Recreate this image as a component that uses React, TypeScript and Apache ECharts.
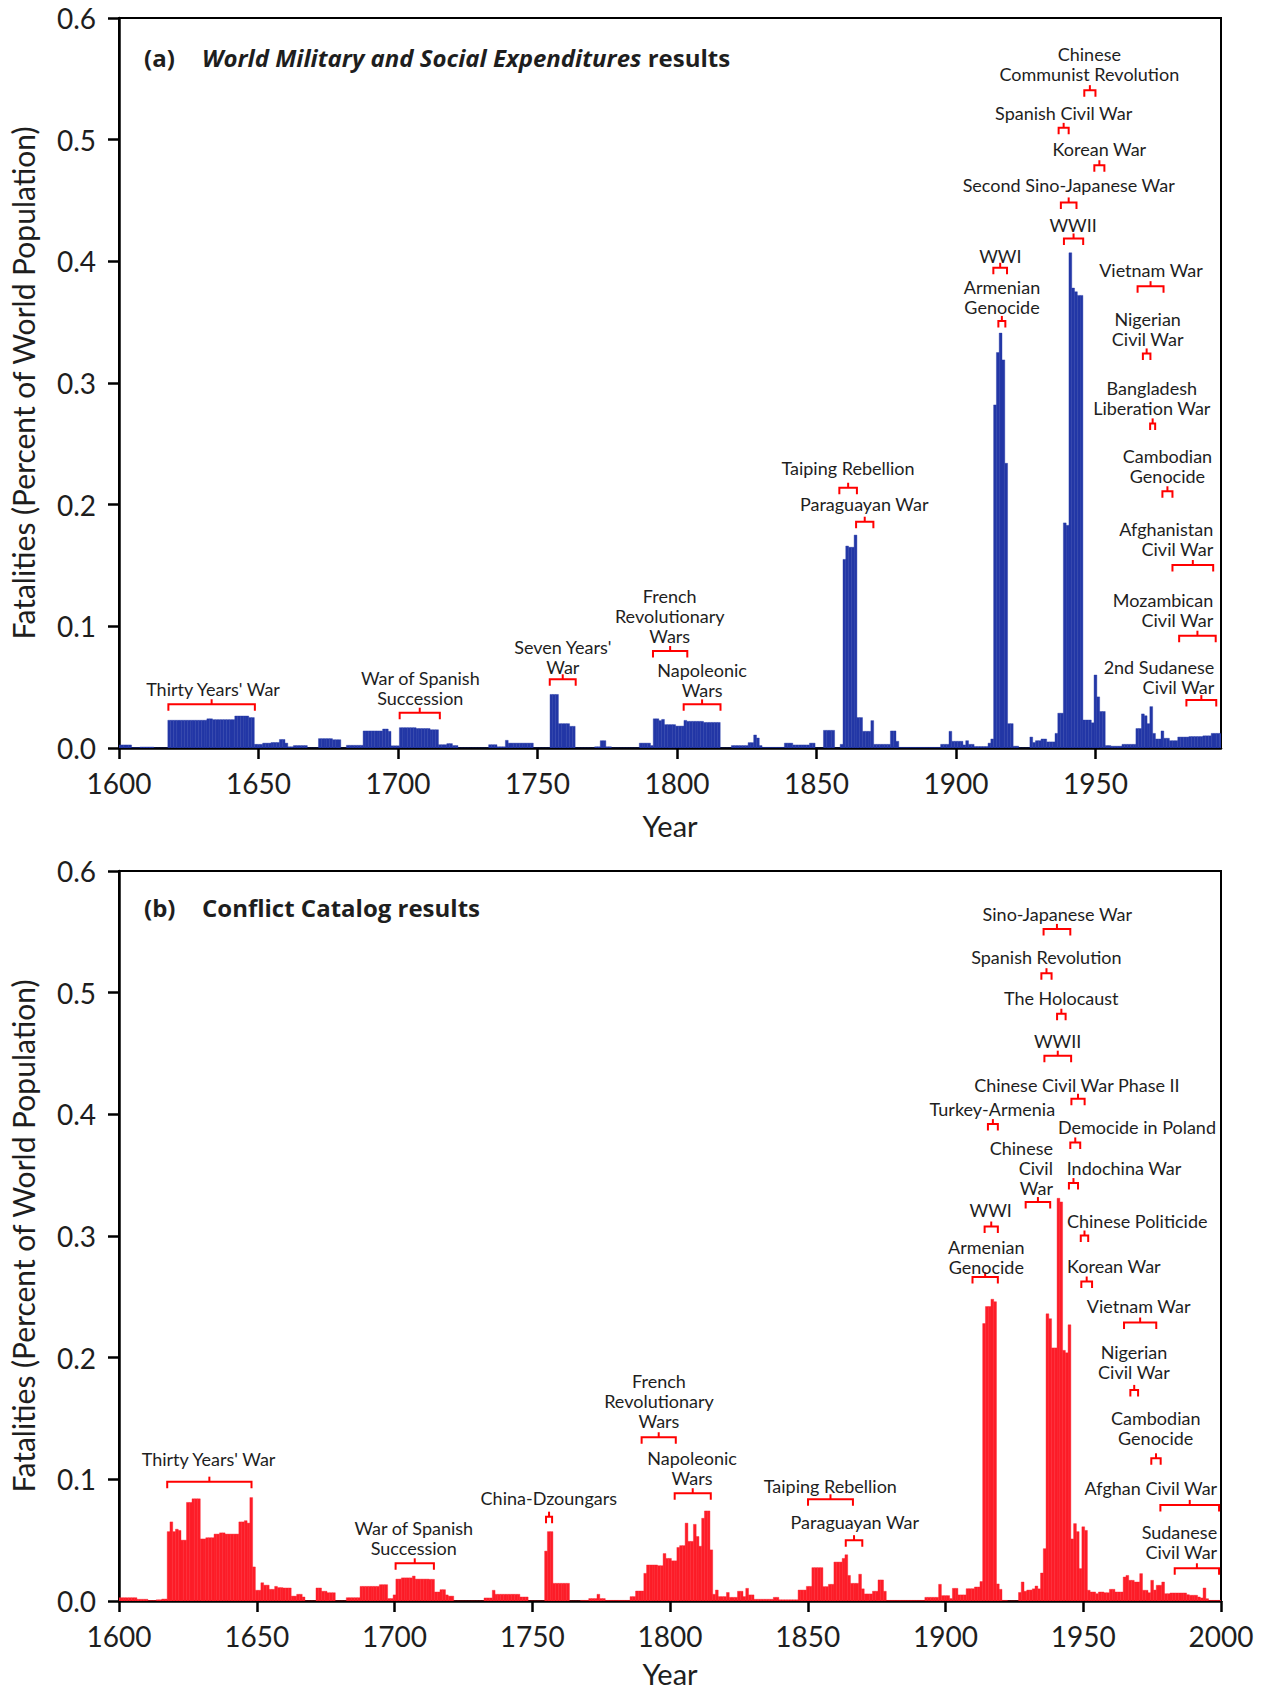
import React, { useEffect, useRef } from "react";
import * as echarts from "echarts";

type Seg = [number, number, number];

// [firstYear, lastYear, value]  (percent of world population), panel (a)
const SEG_A: Seg[] = [
  [1600, 1604, 0.0025], [1605, 1607, 0.0002], [1608, 1612, 0.0008], [1613, 1617, 0],
  [1618, 1631, 0.0228], [1632, 1633, 0.024], [1634, 1641, 0.0233], [1642, 1646, 0.0263],
  [1647, 1648, 0.025], [1649, 1651, 0.003], [1652, 1654, 0.004], [1655, 1657, 0.0045],
  [1658, 1659, 0.007], [1660, 1660, 0.004], [1661, 1662, 0.001], [1663, 1667, 0.002],
  [1668, 1671, 0], [1672, 1676, 0.0077], [1677, 1679, 0.0068], [1680, 1681, 0],
  [1682, 1687, 0.0022], [1688, 1694, 0.014], [1695, 1696, 0.0156], [1697, 1697, 0.0137],
  [1698, 1700, 0.0018], [1701, 1706, 0.0167], [1707, 1711, 0.016], [1712, 1714, 0.015],
  [1715, 1717, 0.0027], [1718, 1719, 0.0036], [1720, 1721, 0.002], [1722, 1732, 0],
  [1733, 1735, 0.0027], [1736, 1738, 0.001], [1739, 1739, 0.0063], [1740, 1748, 0.004],
  [1749, 1754, 0], [1755, 1757, 0.044], [1758, 1761, 0.02], [1762, 1763, 0.0178],
  [1764, 1770, 0], [1771, 1772, 0.001], [1773, 1774, 0.006], [1775, 1776, 0.001],
  [1777, 1786, 0], [1787, 1790, 0.004], [1791, 1791, 0.002], [1792, 1793, 0.024],
  [1794, 1794, 0.0225], [1795, 1795, 0.0235], [1796, 1799, 0.0192], [1800, 1802, 0.018],
  [1803, 1803, 0.0227], [1804, 1809, 0.0219], [1810, 1815, 0.021], [1816, 1819, 0],
  [1820, 1825, 0.002], [1826, 1827, 0.0044], [1828, 1828, 0.0107], [1829, 1829, 0.0082],
  [1830, 1830, 0.002], [1831, 1838, 0.0005], [1839, 1841, 0.004], [1842, 1847, 0.0025],
  [1848, 1849, 0.004], [1850, 1852, 0], [1853, 1856, 0.0145], [1857, 1858, 0],
  [1859, 1859, 0.003], [1860, 1860, 0.155], [1861, 1861, 0.166], [1862, 1863, 0.165],
  [1864, 1864, 0.175], [1865, 1866, 0.025], [1867, 1869, 0.0137], [1870, 1870, 0.0225],
  [1871, 1876, 0.003], [1877, 1878, 0.014], [1879, 1879, 0.0055], [1880, 1894, 0.0005],
  [1895, 1897, 0.003], [1898, 1898, 0.0137], [1899, 1902, 0.0055], [1903, 1903, 0.0025],
  [1904, 1904, 0.006], [1905, 1906, 0.003], [1907, 1911, 0.0012], [1912, 1912, 0.004],
  [1913, 1913, 0.0074], [1914, 1914, 0.282], [1915, 1915, 0.325], [1916, 1916, 0.341],
  [1917, 1917, 0.319], [1918, 1918, 0.234], [1919, 1920, 0.02], [1921, 1922, 0.0015],
  [1923, 1926, 0], [1927, 1927, 0.009], [1928, 1928, 0.0045], [1929, 1930, 0.006],
  [1931, 1932, 0.0074], [1933, 1935, 0.005], [1936, 1936, 0.012], [1937, 1938, 0.0286],
  [1939, 1939, 0.185], [1940, 1940, 0.183], [1941, 1941, 0.407], [1942, 1942, 0.378],
  [1943, 1943, 0.375], [1944, 1945, 0.372], [1946, 1948, 0.023], [1949, 1949, 0.0207],
  [1950, 1950, 0.06], [1951, 1951, 0.042], [1952, 1953, 0.03], [1954, 1955, 0.002],
  [1956, 1959, 0.0015], [1960, 1964, 0.003], [1965, 1966, 0.016], [1967, 1967, 0.028],
  [1968, 1968, 0.0265], [1969, 1969, 0.02], [1970, 1970, 0.034], [1971, 1971, 0.012],
  [1972, 1973, 0.0074], [1974, 1974, 0.014], [1975, 1976, 0.008], [1977, 1979, 0.006],
  [1980, 1983, 0.009], [1984, 1988, 0.0094], [1989, 1991, 0.01], [1992, 1995, 0.012],
];

// panel (b)
const SEG_B: Seg[] = [
  [1600, 1606, 0.0027], [1607, 1610, 0.0014], [1611, 1613, 0.0003], [1614, 1615, 0.001],
  [1616, 1617, 0.0016], [1618, 1618, 0.057], [1619, 1619, 0.065], [1620, 1620, 0.057],
  [1621, 1621, 0.059], [1622, 1622, 0.058], [1623, 1624, 0.05], [1625, 1626, 0.081],
  [1627, 1629, 0.084], [1630, 1631, 0.051], [1632, 1634, 0.052], [1635, 1636, 0.055],
  [1637, 1638, 0.056], [1639, 1643, 0.055], [1644, 1645, 0.065], [1646, 1646, 0.066],
  [1647, 1647, 0.064], [1648, 1648, 0.085], [1649, 1649, 0.028], [1650, 1651, 0.0088],
  [1652, 1652, 0.015], [1653, 1654, 0.013], [1655, 1656, 0.0096], [1657, 1657, 0.012],
  [1658, 1659, 0.011], [1660, 1662, 0.0107], [1663, 1664, 0.004], [1665, 1666, 0.0055],
  [1667, 1667, 0.0033], [1668, 1671, 0], [1672, 1673, 0.0107], [1674, 1675, 0.008],
  [1676, 1678, 0.0068], [1679, 1682, 0], [1683, 1687, 0.0027], [1688, 1694, 0.012],
  [1695, 1697, 0.0134], [1698, 1699, 0.002], [1700, 1700, 0.005], [1701, 1702, 0.018],
  [1703, 1706, 0.019], [1707, 1707, 0.0205], [1708, 1712, 0.018], [1713, 1714, 0.0178],
  [1715, 1716, 0.0074], [1717, 1718, 0.0093], [1719, 1719, 0.005], [1720, 1721, 0.004],
  [1722, 1732, 0], [1733, 1735, 0.0025], [1736, 1736, 0.0088], [1737, 1745, 0.0055],
  [1746, 1748, 0.0033], [1749, 1754, 0], [1755, 1755, 0.041], [1756, 1757, 0.057],
  [1758, 1763, 0.0145], [1764, 1767, 0], [1768, 1770, 0.0005], [1771, 1773, 0.002],
  [1774, 1774, 0.0055], [1775, 1776, 0.002], [1777, 1785, 0.0005], [1786, 1787, 0.0036],
  [1788, 1790, 0.0082], [1791, 1791, 0.0227], [1792, 1795, 0.0296], [1796, 1797, 0.029],
  [1798, 1798, 0.039], [1799, 1800, 0.035], [1801, 1802, 0.033], [1803, 1803, 0.044],
  [1804, 1805, 0.0455], [1806, 1806, 0.064], [1807, 1808, 0.049], [1809, 1809, 0.063],
  [1810, 1810, 0.053], [1811, 1811, 0.045], [1812, 1812, 0.068], [1813, 1814, 0.074],
  [1815, 1815, 0.042], [1816, 1816, 0.0055], [1817, 1817, 0.009], [1818, 1820, 0.0036],
  [1821, 1821, 0.007], [1822, 1824, 0.003], [1825, 1826, 0.008], [1827, 1827, 0.0036],
  [1828, 1828, 0.0104], [1829, 1830, 0.005], [1831, 1837, 0.0014], [1838, 1839, 0.003],
  [1840, 1846, 0.001], [1847, 1849, 0.009], [1850, 1851, 0.012], [1852, 1855, 0.0274],
  [1856, 1857, 0.0118], [1858, 1859, 0.0137], [1860, 1862, 0.032], [1863, 1863, 0.035],
  [1864, 1864, 0.038], [1865, 1865, 0.021], [1866, 1868, 0.0145], [1869, 1869, 0.022],
  [1870, 1870, 0.01], [1871, 1873, 0.0058], [1874, 1875, 0.008], [1876, 1877, 0.0173],
  [1878, 1878, 0.008], [1879, 1892, 0.0005], [1893, 1897, 0.003], [1898, 1898, 0.0137],
  [1899, 1901, 0.0044], [1902, 1902, 0.002], [1903, 1904, 0.0104], [1905, 1907, 0.005],
  [1908, 1910, 0.0101], [1911, 1912, 0.0115], [1913, 1913, 0.016], [1914, 1914, 0.228],
  [1915, 1916, 0.242], [1917, 1917, 0.248], [1918, 1918, 0.246], [1919, 1919, 0.014],
  [1920, 1920, 0.0096], [1921, 1922, 0.0005], [1923, 1926, 0], [1927, 1927, 0.007],
  [1928, 1928, 0.0156], [1929, 1929, 0.008], [1930, 1931, 0.009], [1932, 1932, 0.01],
  [1933, 1933, 0.0123], [1934, 1934, 0.01], [1935, 1935, 0.023], [1936, 1936, 0.043],
  [1937, 1937, 0.236], [1938, 1938, 0.232], [1939, 1940, 0.208], [1941, 1941, 0.331],
  [1942, 1942, 0.328], [1943, 1943, 0.206], [1944, 1944, 0.204], [1945, 1945, 0.227],
  [1946, 1946, 0.051], [1947, 1947, 0.0636], [1948, 1948, 0.057], [1949, 1949, 0.0266],
  [1950, 1950, 0.061], [1951, 1951, 0.058], [1952, 1952, 0.0088], [1953, 1954, 0.0074],
  [1955, 1955, 0.006], [1956, 1957, 0.0074], [1958, 1959, 0.0068], [1960, 1961, 0.0096],
  [1962, 1964, 0.0074], [1965, 1965, 0.0197], [1966, 1966, 0.021], [1967, 1968, 0.017],
  [1969, 1970, 0.0156], [1971, 1971, 0.0225], [1972, 1973, 0.0088], [1974, 1974, 0.0068],
  [1975, 1975, 0.017], [1976, 1976, 0.009], [1977, 1978, 0.0129], [1979, 1979, 0.0156],
  [1980, 1981, 0.006], [1982, 1987, 0.0066], [1988, 1988, 0.0052], [1989, 1991, 0.0047],
  [1992, 1992, 0.0033], [1993, 1993, 0.0025], [1994, 1994, 0.0107], [1995, 1995, 0.0019],
  [1996, 2000, 0.0005],
];

// [label, labelYear, labelValue, align, bracketStartYear, bracketEndYear, bracketValue]
type Ann = [string, number, number, string, number, number, number];
const ANN_A: Ann[] = [
  ["Thirty Years' War", 1633.7, 0.0488, "center", 1617.7, 1648.7, 0.036],
  ["War of Spanish\nSuccession", 1708, 0.0497, "center", 1700.6, 1715, 0.029],
  ["Seven Years'\nWar", 1759.1, 0.075, "center", 1754.4, 1763.7, 0.0565],
  ["French\nRevolutionary\nWars", 1797.4, 0.1084, "center", 1791.4, 1803.7, 0.0797],
  ["Napoleonic\nWars", 1809, 0.0559, "center", 1802.4, 1815.6, 0.0359],
  ["Taiping Rebellion", 1861.3, 0.23, "center", 1858.2, 1864.5, 0.2139],
  ["Paraguayan War", 1867.1, 0.2008, "center", 1864.2, 1870.4, 0.186],
  ["WWI", 1915.9, 0.4044, "center", 1913.4, 1918.3, 0.3947],
  ["Armenian\nGenocide", 1916.5, 0.371, "center", 1915.2, 1917.7, 0.351],
  ["WWII", 1942, 0.43, "center", 1938.7, 1945.6, 0.4188],
  ["Second Sino-Japanese War", 1940.4, 0.4628, "center", 1937.6, 1943.2, 0.4484],
  ["Korean War", 1951.4, 0.4921, "center", 1949.6, 1953.2, 0.479],
  ["Spanish Civil War", 1938.6, 0.5222, "center", 1936.8, 1940.4, 0.5097],
  ["Chinese\nCommunist Revolution", 1947.8, 0.5625, "center", 1946, 1950, 0.5407],
  ["Vietnam War", 1969.9, 0.393, "center", 1965.1, 1974.4, 0.3796],
  ["Nigerian\nCivil War", 1968.7, 0.3442, "center", 1967, 1969.7, 0.3243],
  ["Bangladesh\nLiberation War", 1970.2, 0.2877, "center", 1969.6, 1971.4, 0.2668],
  ["Cambodian\nGenocide", 1975.8, 0.2316, "center", 1974, 1977.6, 0.211],
  ["Afghanistan\nCivil War", 1992.2, 0.1717, "right", 1977.6, 1992.2, 0.1504],
  ["Mozambican\nCivil War", 1992.2, 0.1134, "right", 1980, 1993.1, 0.0923],
  ["2nd Sudanese\nCivil War", 1992.6, 0.058, "right", 1982.6, 1993.3, 0.0394],
];

const ANN_B: Ann[] = [
  ["Thirty Years' War", 1632.5, 0.1164, "center", 1617.5, 1648.1, 0.0981],
  ["War of Spanish\nSuccession", 1707, 0.0516, "center", 1700.4, 1714.3, 0.031],
  ["China-Dzoungars", 1756, 0.0847, "center", 1755, 1757.2, 0.0693],
  ["French\nRevolutionary\nWars", 1796, 0.164, "center", 1789.7, 1802.1, 0.1346],
  ["Napoleonic\nWars", 1808, 0.1095, "center", 1801.7, 1814.8, 0.0886],
  ["Taiping Rebellion", 1858.2, 0.0948, "center", 1850.1, 1866.4, 0.0836],
  ["Paraguayan War", 1867.1, 0.0652, "center", 1863.8, 1869.8, 0.05],
  ["Sino-Japanese War", 1940.6, 0.565, "center", 1935.6, 1945.3, 0.5524],
  ["Spanish Revolution", 1936.6, 0.5293, "center", 1934.8, 1938.5, 0.516],
  ["The Holocaust", 1942, 0.4956, "center", 1940.5, 1943.6, 0.4827],
  ["WWII", 1940.7, 0.46, "center", 1935.9, 1945.6, 0.4482],
  ["Chinese Civil War Phase II", 1947.7, 0.4243, "center", 1945.7, 1950.5, 0.4128],
  ["Turkey-Armenia", 1917, 0.4046, "center", 1915.4, 1919, 0.392],
  ["Democide in Poland", 1969.5, 0.3895, "center", 1945.3, 1948.9, 0.3769],
  ["Chinese\nCivil\nWar", 1939, 0.356, "right", 1929.1, 1938, 0.3279],
  ["Indochina War", 1964.8, 0.3558, "center", 1944.8, 1948.1, 0.3435],
  ["WWI", 1916.4, 0.321, "center", 1914.2, 1919, 0.3078],
  ["Chinese Politicide", 1969.6, 0.312, "center", 1949.1, 1951.8, 0.3004],
  ["Armenian\nGenocide", 1914.8, 0.2829, "center", 1909.8, 1919, 0.2662],
  ["Korean War", 1961.1, 0.2757, "center", 1949.3, 1953.2, 0.2626],
  ["Vietnam War", 1970.1, 0.2426, "center", 1964.8, 1976.5, 0.2289],
  ["Nigerian\nCivil War", 1968.4, 0.1968, "center", 1967.1, 1969.9, 0.1735],
  ["Cambodian\nGenocide", 1976.3, 0.1423, "center", 1974.7, 1978.1, 0.1173],
  ["Afghan Civil War", 1998.6, 0.0927, "right", 1978, 1999.3, 0.079],
  ["Sudanese\nCivil War", 1998.6, 0.0485, "right", 1983.2, 1999.3, 0.0269],
];

const X_TICKS_A = [1600, 1650, 1700, 1750, 1800, 1850, 1900, 1950];
const X_TICKS_B = [1600, 1650, 1700, 1750, 1800, 1850, 1900, 1950, 2000];

const FONT = "Lato, 'Noto Sans', sans-serif";
const TITLE_FONT = "'Open Sans', Lato, sans-serif";
const TEXT = "#1e1e1e";
const BLUE = "#2337a6";
const RED = "#fd1d28";
const BRACKET = "#ff0000";

function expand(segs: Seg[]): [number, number][] {
  const out: [number, number][] = [];
  for (const [a, b, v] of segs) for (let y = a; y <= b; y++) out.push([y, v]);
  return out;
}

function barSeries(idx: number, segs: Seg[], color: string) {
  return {
    type: "custom",
    xAxisIndex: idx,
    yAxisIndex: idx,
    clip: true,
    silent: true,
    encode: { x: 0, y: 1 },
    data: expand(segs),
    renderItem: (params: any, api: any) => {
      const yr = api.value(0);
      const v = api.value(1);
      const p0 = api.coord([yr - 0.5, 0]);
      const p1 = api.coord([yr + 0.5, v]);
      return {
        type: "rect",
        shape: { x: p0[0], y: p1[1], width: p1[0] - p0[0], height: p0[1] - p1[1] },
        style: { fill: color, stroke: color, lineWidth: 0.4 },
      };
    },
  };
}

function annSeries(idx: number, anns: Ann[]) {
  return {
    type: "custom",
    xAxisIndex: idx,
    yAxisIndex: idx,
    clip: false,
    silent: true,
    z: 5,
    encode: { x: 0, y: 1 },
    data: anns.map((a) => [a[4], a[6], a[5], a[1], a[2]]),
    renderItem: (params: any, api: any) => {
      const a = anns[params.dataIndex];
      const ps = api.coord([a[4], a[6]]);
      const pe = api.coord([a[5], a[6]]);
      const pl = api.coord([a[1], a[2]]);
      const mx = (ps[0] + pe[0]) / 2;
      return {
        type: "group",
        children: [
          {
            type: "polyline",
            shape: { points: [[ps[0], ps[1] + 6.5], [ps[0], ps[1]], [pe[0], pe[1]], [pe[0], pe[1] + 6.5]] },
            style: { stroke: BRACKET, lineWidth: 2, fill: null },
          },
          {
            type: "line",
            shape: { x1: mx, y1: ps[1], x2: mx, y2: ps[1] - 5 },
            style: { stroke: BRACKET, lineWidth: 2 },
          },
          {
            type: "text",
            x: pl[0],
            y: pl[1],
            style: {
              text: a[0],
              fill: TEXT,
              fontSize: 18,
              fontFamily: FONT,
              lineHeight: 20,
              align: a[3],
              verticalAlign: "middle",
            },
          },
        ],
      };
    },
  };
}

function xAxis(idx: number, max: number, ticks: number[], gap: number) {
  return {
    type: "value",
    gridIndex: idx,
    min: 1600,
    max,
    interval: 50,
    name: "Year",
    nameLocation: "middle",
    nameGap: gap,
    nameTextStyle: { fontSize: 29, fontFamily: FONT, color: TEXT },
    axisLine: { show: true, onZero: false, lineStyle: { color: "#000", width: 2.5 } },
    axisTick: { show: true, inside: false, length: 11, customValues: ticks, lineStyle: { color: "#000", width: 2.5 } },
    axisLabel: {
      margin: 21,
      fontSize: 28,
      fontFamily: FONT,
      color: TEXT,
      customValues: ticks,
      formatter: (v: number) => String(v),
    },
    splitLine: { show: false },
  };
}

function yAxis(idx: number) {
  return {
    type: "value",
    gridIndex: idx,
    min: 0,
    max: 0.6,
    interval: 0.1,
    name: "Fatalities (Percent of World Population)",
    nameLocation: "middle",
    nameGap: 81,
    nameTextStyle: { fontSize: 30, fontFamily: FONT, color: TEXT },
    axisLine: { show: true, lineStyle: { color: "#000", width: 2.5 } },
    axisTick: { show: true, inside: false, length: 11, lineStyle: { color: "#000", width: 2.5 } },
    axisLabel: { margin: 23, fontSize: 28, fontFamily: FONT, color: TEXT, formatter: (v: number) => v.toFixed(1) },
    splitLine: { show: false },
  };
}

export default function App() {
  const ref = useRef<HTMLDivElement>(null);
  useEffect(() => {
    document.body.style.margin = "0";
    if (!ref.current) return;
    const chart = echarts.init(ref.current, null, { renderer: "svg" });
    const titleStyle = (text: string) => ({
      text,
      fill: TEXT,
      fontSize: 24,
      fontWeight: "bold",
      fontFamily: TITLE_FONT,
      verticalAlign: "middle",
      rich: {
        b: { fontSize: 24, fontWeight: "bold", fontFamily: TITLE_FONT, fill: TEXT, color: TEXT },
        bi: { fontSize: 24, fontWeight: "bold", fontStyle: "italic", fontFamily: TITLE_FONT, fill: TEXT, color: TEXT },
      },
    });
    const gridBase = {
      left: 119,
      width: 1102,
      height: 730,
      show: true,
      borderColor: "#000",
      borderWidth: 2,
      backgroundColor: "transparent",
      containLabel: false,
      outerBoundsMode: "none",
    };
    chart.setOption({
      animation: false,
      backgroundColor: "#fff",
      textStyle: { fontFamily: FONT },
      grid: [
        { ...gridBase, top: 18 },
        { ...gridBase, top: 871 },
      ],
      xAxis: [xAxis(0, 1995, X_TICKS_A, 63), xAxis(1, 2000, X_TICKS_B, 58)],
      yAxis: [yAxis(0), yAxis(1)],
      graphic: [
        { type: "text", x: 144, y: 57, style: titleStyle("(a)") },
        { type: "text", x: 202, y: 57, style: titleStyle("{bi|World Military and Social Expenditures}{b| results}") },
        { type: "text", x: 144, y: 907, style: titleStyle("(b)") },
        { type: "text", x: 202, y: 907, style: titleStyle("Conflict Catalog results") },
      ],
      series: [
        barSeries(0, SEG_A, BLUE),
        barSeries(1, SEG_B, RED),
        annSeries(0, ANN_A),
        annSeries(1, ANN_B),
      ],
    });
    return () => chart.dispose();
  }, []);
  return <div ref={ref} style={{ width: 1269, height: 1695 }} />;
}
